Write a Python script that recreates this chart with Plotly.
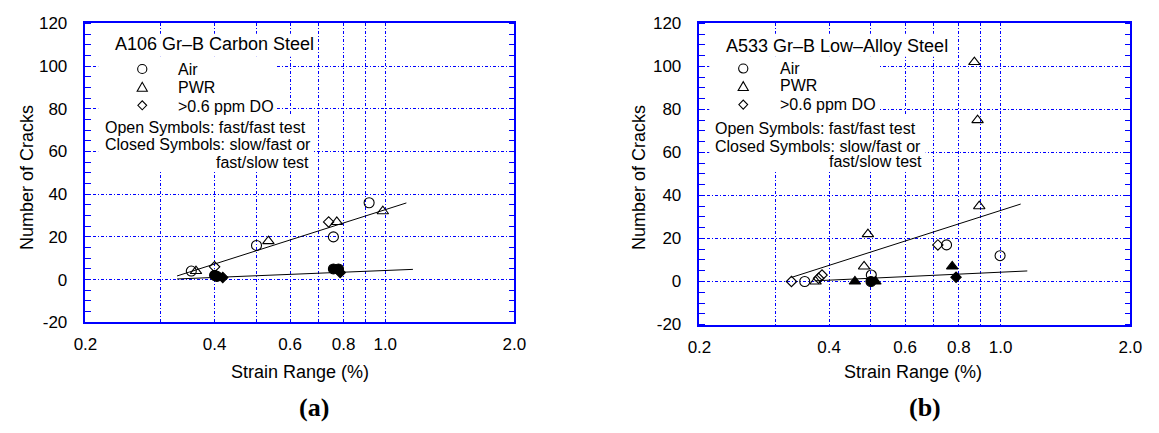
import plotly.graph_objects as go
import math

W, H = 1159, 433

# ---------------- data: panel (a) A106 Gr-B Carbon Steel ----------------
a_air_open_x = [0.353, 0.501, 0.757, 0.917]
a_air_open_y = [4, 16, 20, 36]
a_air_closed_x = [0.400, 0.405, 0.757, 0.778]
a_air_closed_y = [2, 1.5, 5, 5]
a_pwr_open_x = [0.362, 0.534, 0.771, 0.987]
a_pwr_open_y = [4, 18, 27, 32]
a_do_open_x = [0.400, 0.738]
a_do_open_y = [6, 27]
a_do_closed_x = [0.418, 0.785]
a_do_closed_y = [1, 3.3]
a_fit_open_x = [0.327, 1.12]
a_fit_open_y = [1.7, 35.9]
a_fit_closed_x = [0.327, 1.16]
a_fit_closed_y = [0.3, 4.8]

# ---------------- data: panel (b) A533 Gr-B Low-Alloy Steel ----------------
b_air_open_x = [0.351, 0.501, 0.749, 0.997]
b_air_open_y = [0, 3, 17, 12]
b_air_closed_x = [0.500]
b_air_closed_y = [0]
b_pwr_open_x = [0.372, 0.482, 0.492, 0.892, 0.884, 0.869]
b_pwr_open_y = [0, 7, 22, 35, 75, 102]
b_pwr_closed_x = [0.459, 0.512, 0.772]
b_pwr_closed_y = [0, 0, 7]
b_do_open_x = [0.327, 0.378, 0.385, 0.715]
b_do_open_y = [0, 1.5, 3, 17]
b_do_closed_x = [0.788]
b_do_closed_y = [2]
b_fit_open_x = [0.327, 1.113]
b_fit_open_y = [1.9, 36]
b_fit_closed_x = [0.37, 1.153]
b_fit_closed_y = [0.3, 4.9]

# ---------------- axes ticks ----------------
x_tickvals = [0.2, 0.3, 0.4, 0.5, 0.6, 0.7, 0.8, 0.9, 1.0, 2.0]
x_ticktext = ["0.2", "", "0.4", "", "0.6", "", "0.8", "", "1.0", "2.0"]
y_tickvals = [-20, 0, 20, 40, 60, 80, 100, 120]
y_ticktext = ["-20", "0", "20", "40", "60", "80", "100", "120"]

panel_titles = ["A106 Gr\u2013B Carbon Steel", "A533 Gr\u2013B Low\u2013Alloy Steel"]
legend_labels = ["Air", "PWR", ">0.6 ppm DO"]
note_lines = ["Open Symbols: fast/fast test", "Closed Symbols: slow/fast or", "fast/slow test"]
panel_letters = ["(a)", "(b)"]

BLUE = "#0000ff"
FONT = "Liberation Sans, Arial, Helvetica, sans-serif"
GRIDDASH = "3px,2px,1px,2px"


def X(px):
    return px / W


def Y(py):
    return 1 - py / H


fig = go.Figure()


def add_panel(xa, ya, data):
    for (xs, ys, sym, size) in data:
        fig.add_trace(go.Scatter(
            x=xs, y=ys, mode="markers", xaxis=xa, yaxis=ya,
            marker=dict(symbol=sym, size=size, color="black",
                        line=dict(color="black", width=1.1)),
            hoverinfo="skip"))


def add_line(xa, ya, xs, ys):
    fig.add_trace(go.Scatter(x=xs, y=ys, mode="lines", xaxis=xa, yaxis=ya,
                             line=dict(color="black", width=1), hoverinfo="skip"))


add_line("x", "y", a_fit_open_x, a_fit_open_y)
add_line("x", "y", a_fit_closed_x, a_fit_closed_y)
add_panel("x", "y", [
    (a_air_open_x, a_air_open_y, "circle-open", 10),
    (a_pwr_open_x, a_pwr_open_y, "triangle-up-open", 10),
    (a_do_open_x, a_do_open_y, "diamond-open", 8),
    (a_air_closed_x, a_air_closed_y, "circle", 10),
    (a_do_closed_x, a_do_closed_y, "diamond", 8),
])

add_line("x2", "y2", b_fit_open_x, b_fit_open_y)
add_line("x2", "y2", b_fit_closed_x, b_fit_closed_y)
add_panel("x2", "y2", [
    (b_air_open_x, b_air_open_y, "circle-open", 10),
    (b_pwr_open_x, b_pwr_open_y, "triangle-up-open", 10),
    (b_do_open_x, b_do_open_y, "diamond-open", 8),
    (b_air_closed_x, b_air_closed_y, "circle", 10),
    (b_pwr_closed_x, b_pwr_closed_y, "triangle-up", 10),
    (b_do_closed_x, b_do_closed_y, "diamond", 8),
])

xcommon = dict(
    type="log", range=[math.log10(0.2), math.log10(2.0)],
    tickmode="array", tickvals=x_tickvals, ticktext=x_ticktext,
    ticks="", showgrid=True, gridcolor=BLUE, gridwidth=1, griddash=GRIDDASH,
    showline=True, linecolor=BLUE, linewidth=1.5, mirror=True,
    tickfont=dict(family=FONT, size=17, color="black"), ticklabelstandoff=6,
    zeroline=False,
)
ycommon = dict(
    range=[-20, 120], tickmode="array", tickvals=y_tickvals, ticktext=y_ticktext,
    ticks="outside", ticklen=13, tickcolor="rgba(0,0,0,0)", tickwidth=1,
    minor=dict(dtick=5, tick0=0, ticks="inside", ticklen=6, tickcolor=BLUE, tickwidth=1, showgrid=False),
    showgrid=True, gridcolor=BLUE, gridwidth=1, griddash=GRIDDASH,
    showline=True, linecolor=BLUE, linewidth=1.5, mirror="ticks",
    tickfont=dict(family=FONT, size=17, color="black"),
    zeroline=False,
)

fig.update_layout(
    width=W, height=H, margin=dict(l=0, r=0, t=0, b=0),
    paper_bgcolor="white", plot_bgcolor="white", showlegend=False,
    xaxis=dict(domain=[X(75), X(513)], anchor="y", **xcommon),
    yaxis=dict(domain=[Y(327.7), Y(15)], anchor="x", **ycommon),
    xaxis2=dict(domain=[X(702), X(1142)], anchor="y2", **xcommon),
    yaxis2=dict(domain=[Y(330), Y(15)], anchor="x2", **ycommon),
)

shapes = []
annots = []


def rect(x0, y0, x1, y1):
    shapes.append(dict(type="rect", xref="paper", yref="paper",
                       x0=X(x0), x1=X(x1), y0=Y(y1), y1=Y(y0),
                       fillcolor="white", line=dict(width=0), layer="above"))


def path_shape(pts):
    d = "M " + " L ".join(f"{X(px):.6f},{Y(py):.6f}" for px, py in pts) + " Z"
    shapes.append(dict(type="path", xref="paper", yref="paper", path=d,
                       line=dict(color="black", width=1.1), fillcolor="rgba(0,0,0,0)", layer="above"))


def glyphs(cx, ycirc, ytri, ydia):
    shapes.append(dict(type="circle", xref="paper", yref="paper",
                       x0=X(cx - 4.7), x1=X(cx + 4.7), y0=Y(ycirc + 4.7), y1=Y(ycirc - 4.7),
                       line=dict(color="black", width=1.1), layer="above"))
    path_shape([(cx - 5.2, ytri + 4.3), (cx + 5.2, ytri + 4.3), (cx, ytri - 5.0)])
    path_shape([(cx - 4.5, ydia), (cx, ydia - 4.7), (cx + 4.5, ydia), (cx, ydia + 4.7)])


def text(s, px, py, xanchor="left", size=16, **kw):
    annots.append(dict(text=s, x=X(px), y=Y(py), xref="paper", yref="paper",
                       xanchor=xanchor, yanchor="middle", showarrow=False,
                       font=dict(family=kw.get("family", FONT), size=size, color="black"),
                       textangle=kw.get("angle", 0)))


# panel (a) legend block
rect(98, 26, 310, 50)
rect(88, 50, 270, 112)
rect(88, 112, 308, 170)
glyphs(133, 62.7, 81.7, 100.7)
text(panel_titles[0], 103, 36.5, size=18)
text(legend_labels[0], 167.7, 63.5)
text(legend_labels[1], 167.7, 82.5)
text(legend_labels[2], 167.7, 101.5)
text(note_lines[0], 92.7, 123.5)
text(note_lines[1], 92.7, 141.5)
text(note_lines[2], 305, 160.5, xanchor="right")

# panel (b) legend block
rect(720, 26, 958, 50)
rect(712, 50, 886, 112)
rect(712, 112, 933, 170)
glyphs(746.7, 62.3, 81, 100)
text(panel_titles[1], 726.7, 38.5, size=18)
text(legend_labels[0], 781.7, 62)
text(legend_labels[1], 781.7, 80.5)
text(legend_labels[2], 781.7, 99.5)
text(note_lines[0], 716, 125)
text(note_lines[1], 716, 143.5)
text(note_lines[2], 931.7, 160, xanchor="right")

# axis titles
text("Strain Range (%)", 294, 380, xanchor="center", size=18)
text("Strain Range (%)", 920, 380, xanchor="center", size=18)
text("Number of Cracks", 16, 176, xanchor="center", size=18, angle=-90)
text("Number of Cracks", 641, 176, xanchor="center", size=18, angle=-90)

# panel letters
for letter, cx in zip(panel_letters, [308, 932]):
    annots.append(dict(text="<b>" + letter + "</b>", x=X(cx), y=Y(417), xref="paper", yref="paper",
                       xanchor="center", yanchor="middle", showarrow=False,
                       font=dict(family="Liberation Serif, Times New Roman, serif", size=26, color="black")))

fig.update_layout(shapes=shapes, annotations=annots)
fig.write_html("out.html")
